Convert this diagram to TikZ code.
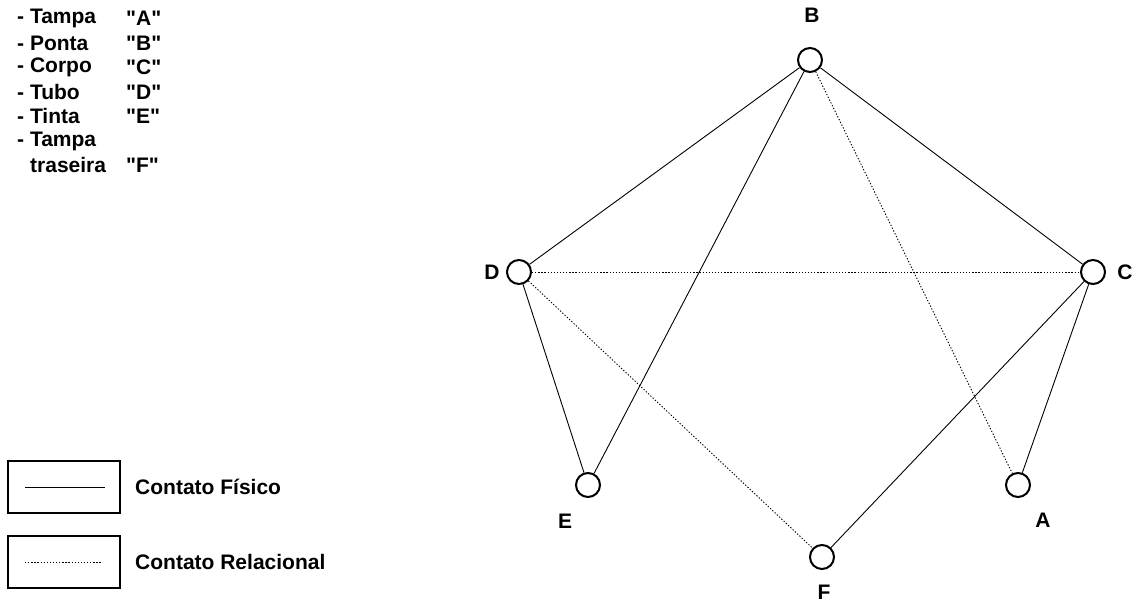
\documentclass[tikz,border=0pt]{standalone}
\usepackage{fontspec}
\setmainfont{Liberation Sans}
\newfontfamily\plainsans{Liberation Sans}
\newcommand{\qq}[1]{{\plainsans\bfseries\char34}#1{\plainsans\bfseries\char34}}
\begin{document}
\begin{tikzpicture}[x=1pt,y=-1pt,
  part/.style={circle,draw,line width=2pt,minimum size=24pt,inner sep=0pt},
  lbl/.style={font=\bfseries\fontsize{21}{25}\selectfont,inner sep=0pt},
  txt/.style={font=\bfseries\fontsize{21}{25}\selectfont,inner sep=0pt,anchor=west},
  fis/.style={line width=0.9pt},
  rel/.style={line width=0.9pt,dash pattern=on 1.3pt off 1.8pt},
  lbox/.style={draw,line width=1.3pt,minimum width=112pt,minimum height=52pt,inner sep=0pt}]
\useasboundingbox (0,0) rectangle (1141,608);
% list
\node[txt] (t1) at (17,18) {- Tampa};
\node[txt] (q1) at (126,18) {\qq{A}};
\node[txt] (t2) at (17,43) {- Ponta};
\node[txt] (q2) at (126,43) {\qq{B}};
\node[txt] (t3) at (17,67) {- Corpo};
\node[txt] (q3) at (126,67) {\qq{C}};
\node[txt] (t4) at (17,92) {- Tubo};
\node[txt] (q4) at (126,92) {\qq{D}};
\node[txt] (t5) at (17,116) {- Tinta};
\node[txt] (q5) at (126,116) {\qq{E}};
\node[txt] (t6) at (17,141) {- Tampa};
\node[txt] (t7) at (30,165) {traseira};
\node[txt] (q7) at (126,165) {\qq{F}};
% nodes
\node[part] (B) at (810,60) {};
\node[part] (D) at (519,272) {};
\node[part] (C) at (1093,272) {};
\node[part] (E) at (588,485) {};
\node[part] (A) at (1018,485) {};
\node[part] (F) at (822,557) {};
\node[lbl] (lB) at (812,15) {B};
\node[lbl] (lD) at (492,272) {D};
\node[lbl] (lC) at (1125,272) {C};
\node[lbl] (lE) at (565,521) {E};
\node[lbl] (lA) at (1043,520) {A};
\node[lbl] (lF) at (824,592) {F};
% edges
\draw[fis] (B) -- (D);
\draw[fis] (B) -- (C);
\draw[fis] (B) -- (E);
\draw[fis] (D) -- (E);
\draw[fis] (C) -- (A);
\draw[fis] (C) -- (F);
\draw[rel] (B) -- (A);
\draw[rel] (D) -- (C);
\draw[rel] (D) -- (F);
% legend
\node[lbox] (k1) at (64,487) {};
\node[lbox] (k2) at (64,562) {};
\coordinate (k1a) at (25,487);
\coordinate (k1b) at (105,487);
\coordinate (k2a) at (25,562);
\coordinate (k2b) at (102,562);
\draw[fis] (k1a) -- (k1b);
\draw[rel] (k2a) -- (k2b);
\node[txt] (c1) at (135,487) {Contato Físico};
\node[txt] (c2) at (135,562) {Contato Relacional};
\end{tikzpicture}
\end{document}
